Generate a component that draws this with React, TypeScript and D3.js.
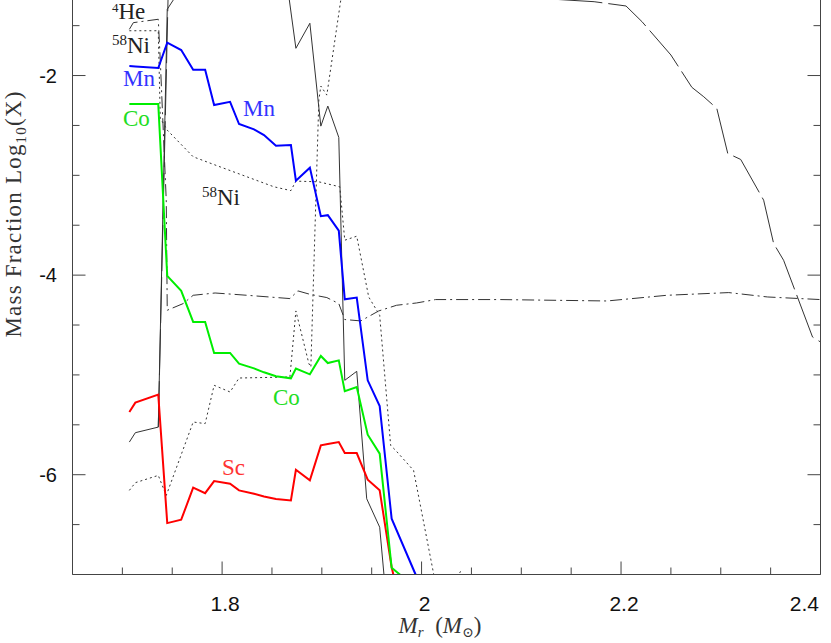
import React from 'react';
import * as d3 from 'd3';

const W = 831;
const H = 643;

// shared mass grid for coloured species
const gridMass = [1.707, 1.713, 1.736, 1.745, 1.759, 1.771, 1.783, 1.792, 1.808, 1.817, 1.832, 1.842, 1.854, 1.869, 1.874, 1.888, 1.899, 1.906, 1.917, 1.923, 1.935, 1.946, 1.958, 1.970, 1.994];
const mnLog = [-1.905, -1.909, -1.925, -1.671, -1.744, -1.942, -1.942, -2.296, -2.263, -2.486, -2.540, -2.597, -2.704, -2.697, -3.053, -2.923, -3.409, -3.399, -3.555, -4.242, -4.225, -5.054, -5.312, -6.441, -7.0];
const coLog = [-2.286, -2.286, -2.286, -4.008, -4.158, -4.469, -4.469, -4.780, -4.780, -4.887, -4.934, -4.974, -5.014, -5.034, -4.937, -4.994, -4.810, -4.881, -4.854, -5.162, -5.121, -5.599, -5.789, -6.933, -7.13];
const scLog = [-5.372, -5.278, -5.198, -6.485, -6.451, -6.130, -6.185, -6.064, -6.090, -6.157, -6.191, -6.218, -6.243, -6.258, -5.950, -6.057, -5.706, -5.693, -5.673, -5.783, -5.783, -6.050, -6.157, -6.927, -7.96];

// 4He (dash-dot)
const heMass = [1.707, 1.711, 1.736, 1.738, 1.744, 1.745, 1.761, 1.771, 1.793, 1.825, 1.868, 1.876, 1.888, 1.905, 1.917, 1.923, 1.939, 1.957, 1.975, 1.995, 2.014, 2.079, 2.186, 2.246, 2.308, 2.347, 2.400];
const heLog = [-1.537, -1.470, -1.436, -1.845, -3.249, -4.352, -4.285, -4.202, -4.179, -4.202, -4.235, -4.158, -4.192, -4.225, -4.285, -4.445, -4.459, -4.359, -4.302, -4.279, -4.245, -4.245, -4.259, -4.202, -4.175, -4.219, -4.245];

// 58Ni (dotted)
const niMass = [1.707, 1.736, 1.738, 1.745, 1.771, 1.798, 1.825, 1.852, 1.869, 1.874, 1.897, 1.918, 1.923, 1.935, 1.947, 1.958, 1.969, 1.974, 1.992, 2.013, 2.029, 2.039, 2.049];
const niLog = [-1.551, -1.551, -2.426, -2.547, -2.814, -2.915, -3.015, -3.115, -3.153, -3.058, -3.065, -3.115, -3.650, -3.610, -4.219, -4.402, -5.706, -5.756, -5.957, -7.04, -7.16, -6.97, -7.16];

// second dotted species
const dotMass = [1.707, 1.713, 1.736, 1.744, 1.771, 1.783, 1.792, 1.808, 1.817, 1.868, 1.874, 1.887, 1.889, 1.897, 1.899, 1.905, 1.919, 1.929, 1.999];
const dotLog = [-6.157, -6.080, -6.007, -6.208, -5.472, -5.488, -5.104, -5.171, -5.031, -5.021, -4.359, -4.887, -4.921, -2.246, -2.105, -2.196, -1.243, -0.842, -0.8];

// solid thin species
const solidMass = [1.707, 1.713, 1.736, 1.745, 1.753, 1.808, 1.867, 1.874, 1.888, 1.899, 1.906, 1.917, 1.923, 1.935, 1.945, 1.958, 1.965];
const solidLog = [-5.673, -5.579, -5.523, -1.336, -1.213, -0.9, -1.213, -1.727, -1.476, -2.507, -2.306, -2.620, -5.054, -4.964, -6.241, -6.526, -7.30];

// long-dashed species
const dashMass = [1.736, 1.746, 1.878, 2.129, 2.173, 2.205, 2.221, 2.250, 2.271, 2.283, 2.296, 2.307, 2.320, 2.343, 2.353, 2.363, 2.392, 2.400];
const dashLog = [-5.523, -1.142, -0.84, -1.233, -1.260, -1.303, -1.460, -1.794, -2.118, -2.213, -2.329, -2.780, -2.841, -3.249, -3.683, -3.851, -4.620, -4.670];

const xMajorTicks = [1.8, 2.0, 2.2, 2.4];
const xTickLabels = ['1.8', '2', '2.2', '2.4'];
const xMinorTicks = [1.65, 1.7, 1.75, 1.85, 1.9, 1.95, 2.05, 2.1, 2.15, 2.25, 2.3, 2.35];
const yMajorTicks = [-6, -4, -2];
const yTickLabels = ['-6', '-4', '-2'];
const yMinorTicks = [-6.5, -5.5, -5, -4.5, -3.5, -3, -2.5, -1.5];

const x = d3.scaleLinear().domain([1.65, 2.4]).range([72.5, 820.5]);
const y = d3.scaleLinear().domain([-7, -1.243]).range([574.5, 0]);

function path(mass: number[], vals: number[]) {
  const line = d3.line<number>().x((_, i) => x(mass[i])).y((d) => y(d));
  return line(vals) || '';
}

const serif = '"Liberation Serif", "DejaVu Serif", serif';
const sans = '"Liberation Sans", Arial, sans-serif';

export default function App() {
  const left = x.range()[0];
  const right = x.range()[1];
  const bottom = y.range()[0];
  const axisColor = '#444';
  const curveGray = '#333';
  return (
    <svg width={W} height={H} style={{ position: 'absolute', left: 0, top: 0, background: '#fff' }}>
      <defs>
        <clipPath id="plot">
          <rect x={left} y={-50} width={right - left} height={bottom + 50} />
        </clipPath>
      </defs>
      <g clipPath="url(#plot)" fill="none">
        <path d={path(dashMass, dashLog)} stroke={curveGray} strokeWidth={1} strokeDasharray="46,6" />
        <path d={path(heMass, heLog)} stroke={curveGray} strokeWidth={1} strokeDasharray="12,4,2,4" />
        <path d={path(niMass, niLog)} stroke={curveGray} strokeWidth={1} strokeDasharray="2,3" />
        <path d={path(dotMass, dotLog)} stroke={curveGray} strokeWidth={1} strokeDasharray="2,3" />
        <path d={path(solidMass, solidLog)} stroke={curveGray} strokeWidth={1} />
        <path d={path(gridMass, scLog)} stroke="#ff0000" strokeWidth={2} />
        <path d={path(gridMass, coLog)} stroke="#00ee00" strokeWidth={2} />
        <path d={path(gridMass, mnLog)} stroke="#0000ff" strokeWidth={2} />
      </g>
      {/* frame */}
      <g stroke={axisColor} strokeWidth={1}>
        <line x1={left} x2={left} y1={-5} y2={bottom} />
        <line x1={right} x2={right} y1={-5} y2={bottom} />
        <line x1={left} x2={right} y1={bottom} y2={bottom} />
        {xMajorTicks.map((t) => (
          <line key={'xm' + t} x1={x(t)} x2={x(t)} y1={bottom} y2={bottom - 13} />
        ))}
        {xMinorTicks.map((t) => (
          <line key={'xn' + t} x1={x(t)} x2={x(t)} y1={bottom} y2={bottom - 7} />
        ))}
        {yMajorTicks.map((t) => (
          <g key={'ym' + t}>
            <line x1={left} x2={left + 13} y1={y(t)} y2={y(t)} />
            <line x1={right} x2={right - 13} y1={y(t)} y2={y(t)} />
          </g>
        ))}
        {yMinorTicks.map((t) => (
          <g key={'yn' + t}>
            <line x1={left} x2={left + 7} y1={y(t)} y2={y(t)} />
            <line x1={right} x2={right - 7} y1={y(t)} y2={y(t)} />
          </g>
        ))}
      </g>
      {xMajorTicks.map((t, i) => (
        <text
          key={'xl' + t}
          x={i === xMajorTicks.length - 1 ? 819 : x(t) + 3}
          y={611}
          textAnchor={i === xMajorTicks.length - 1 ? 'end' : 'middle'}
          fontFamily={sans}
          fontSize={21}
          fill="#111"
        >
          {xTickLabels[i]}
        </text>
      ))}
      {yMajorTicks.map((t, i) => (
        <text key={'yl' + t} x={57} y={y(t) + 7} textAnchor="end" fontFamily={sans} fontSize={20} fill="#111">
          {yTickLabels[i]}
        </text>
      ))}
      {/* axis titles */}
      <text transform="translate(21,214) rotate(-90)" textAnchor="middle" fontFamily={serif} fontSize={23} letterSpacing={1.2} fill="#333">
        Mass Fraction Log<tspan fontSize={15} dy={5}>10</tspan><tspan dy={-5}>(X)</tspan>
      </text>
      <text x={440} y={633} textAnchor="middle" fontFamily={serif} fontSize={23} fill="#333">
        <tspan fontStyle="italic">M</tspan>
        <tspan fontStyle="italic" fontSize={15} dy={4}>r</tspan>
        <tspan dy={-4}>{'\u00a0\u00a0('}</tspan>
        <tspan fontStyle="italic">M</tspan>
        <tspan fontSize={14} dy={4}>{'\u2299'}</tspan>
        <tspan dy={-4}>)</tspan>
      </text>
      {/* curve labels */}
      <g fontFamily={serif} fontSize={23}>
        <text x={112} y={19} fill="#222"><tspan fontSize={13} dy={-7}>4</tspan><tspan dy={7}>He</tspan></text>
        <text x={112} y={53} fill="#222"><tspan fontSize={15} dy={-8}>58</tspan><tspan dy={8}>Ni</tspan></text>
        <text x={123} y={86} fill="#3333ff">Mn</text>
        <text x={123} y={126} fill="#22dd22">Co</text>
        <text x={243} y={116} fill="#3333ff">Mn</text>
        <text x={202} y={205} fill="#222"><tspan fontSize={15} dy={-8}>58</tspan><tspan dy={8}>Ni</tspan></text>
        <text x={273} y={405} fill="#22dd22">Co</text>
        <text x={222} y={475} fill="#ff3333">Sc</text>
      </g>
    </svg>
  );
}
